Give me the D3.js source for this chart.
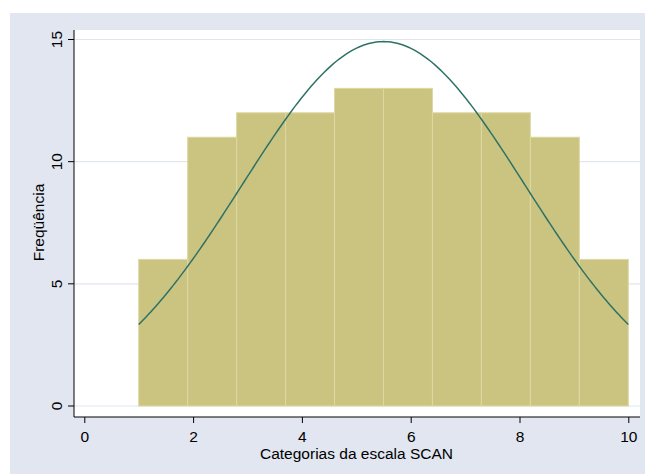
<!DOCTYPE html>
<html><head><meta charset="utf-8">
<script src="https://cdn.jsdelivr.net/npm/d3@7"></script>
<style>body{margin:0;background:#fff}svg{display:block}text{font-family:"Liberation Sans",Arial,sans-serif;fill:#000}</style>
</head><body>
<script>
const binStarts = [1, 1.9, 2.8, 3.7, 4.6, 5.5, 6.4, 7.3, 8.2, 9.1];
const binWidth = 0.9;
const counts = [6, 11, 12, 12, 13, 13, 12, 12, 11, 6];
const xTicks = [0, 2, 4, 6, 8, 10];
const yTicks = [0, 5, 10, 15];
const normalMean = 5.5;
const normalSd = 2.6;
const xTitle = "Categorias da escala SCAN";
const yTitle = "Freqüência";

const W = 645, H = 474;
const svg = d3.select("body").append("svg").attr("width", W).attr("height", H);
svg.append("rect").attr("x",10).attr("y",13).attr("width",W-10).attr("height",H-13).attr("fill","#E1E6F0");
svg.append("rect").attr("x",74).attr("y",30).attr("width",566).attr("height",387).attr("fill","#fff");

const x = d3.scaleLinear().domain([0,10]).range([84.3,628.3]);
const y = d3.scaleLinear().domain([0,15]).range([406,39.5]);

// grid
svg.append("g").selectAll("line").data(yTicks).join("line")
  .attr("x1",74).attr("x2",640).attr("y1",d=>y(d)).attr("y2",d=>y(d))
  .attr("stroke","#E0E6EE").attr("stroke-width",1.2);

// bars
svg.append("g").selectAll("rect").data(counts).join("rect")
  .attr("x",(d,i)=>x(binStarts[i])).attr("width",(d,i)=>x(binStarts[i]+binWidth)-x(binStarts[i]))
  .attr("y",d=>y(d)).attr("height",d=>y(0)-y(d))
  .attr("fill","#CBC480").attr("stroke","#DDD8A2").attr("stroke-width",1);

// normal curve
const total = d3.sum(counts);
const pts = d3.range(0,201).map(i=>{const v=1+9*i/200; const z=(v-normalMean)/normalSd;
  return [v, total*binWidth*Math.exp(-0.5*z*z)/(normalSd*Math.sqrt(2*Math.PI))];});
svg.append("path").datum(pts).attr("fill","none").attr("stroke","#2E7266").attr("stroke-width",1.5)
  .attr("d", d3.line().x(d=>x(d[0])).y(d=>y(d[1])));

// y axis
const ya = svg.append("g").attr("transform","translate(74,0)").call(d3.axisLeft(y).tickValues(yTicks).tickSize(6).tickFormat(d3.format("d")));
ya.select(".domain").attr("d","M0,30V417").attr("stroke","#000");
ya.selectAll(".tick").attr("transform",null);
ya.selectAll(".tick line").attr("y1",d=>y(d)).attr("y2",d=>y(d)).attr("x2",-6).attr("stroke","#000");
ya.selectAll(".tick text").attr("font-size",15.5).attr("text-anchor","middle").attr("dy",0)
  .attr("x",-12).attr("y",d=>y(d)).attr("transform",d=>`rotate(-90,-12,${y(d)})`);

// x axis
const xa = svg.append("g").attr("transform","translate(0,417)").call(d3.axisBottom(x).tickValues(xTicks).tickSize(6).tickFormat(d3.format("d")));
xa.select(".domain").attr("d","M74,0H640").attr("stroke","#000");
xa.selectAll(".tick line").attr("stroke","#000");
xa.selectAll(".tick text").attr("font-size",15.5).attr("y",25).attr("dy",0);

svg.append("text").attr("x",356.5).attr("y",458.5).attr("text-anchor","middle").attr("font-size",15.5).text(xTitle);
svg.append("text").attr("transform","translate(44,222.5) rotate(-90)").attr("text-anchor","middle").attr("font-size",15.5).text(yTitle);
</script>
</body></html>
